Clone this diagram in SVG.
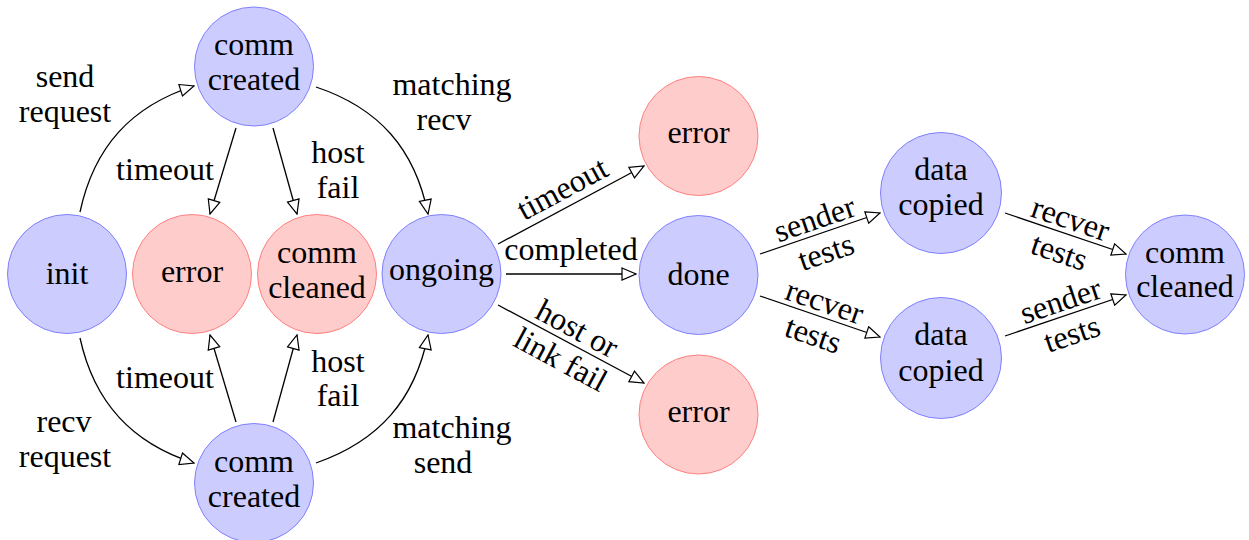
<svg xmlns="http://www.w3.org/2000/svg" width="1249" height="540" viewBox="0 0 1249 540">
<defs>
<style>
text{font-family:"Liberation Serif","Times New Roman",serif;font-size:32px;fill:#000;text-anchor:middle}
.b{fill:#ccccff;stroke:#8080ff;stroke-width:1}
.r{fill:#ffcccc;stroke:#ff8080;stroke-width:1}
.e{fill:none;stroke:#000;stroke-width:1.3;marker-end:url(#a)}
</style>
<marker id="a" viewBox="0 0 16 14" refX="15" refY="7" markerWidth="16" markerHeight="14" markerUnits="userSpaceOnUse" orient="auto">
<path d="M1,1 L15,7 L1,13 Z" fill="#fff" stroke="#000" stroke-width="1.2"/>
</marker>
</defs>
<rect width="1249" height="540" fill="#fff"/>
<g id="connectors">
<path class="e" d="M80,212 C94,147 131,106 194,86"/>
<path class="e" d="M80,338 C94,402 131,443 194,463"/>
<path class="e" d="M236,128 L210,214"/>
<path class="e" d="M273,128 L297,214"/>
<path class="e" d="M316,87 C379,108 415,149 428,214"/>
<path class="e" d="M236,422 L210,335"/>
<path class="e" d="M273,422 L297,335"/>
<path class="e" d="M316,463 C379,441 415,400 428,335"/>
<path class="e" d="M498,244 L644,166"/>
<path class="e" d="M506,274 L636,274"/>
<path class="e" d="M498,305 L644,383"/>
<path class="e" d="M760,254 L880,213"/>
<path class="e" d="M760,296 L880,337"/>
<path class="e" d="M1005,213 L1126,254"/>
<path class="e" d="M1005,336 L1126,295"/>
<text x="65" y="87">send</text>
<text x="65" y="122">request</text>
<text x="165" y="180">timeout</text>
<text x="338" y="163">host</text>
<text x="338" y="198">fail</text>
<text x="452" y="95">matching</text>
<text x="444" y="130">recv</text>
<text x="64" y="432">recv</text>
<text x="65" y="467">request</text>
<text x="165" y="388">timeout</text>
<text x="338" y="372">host</text>
<text x="338" y="406">fail</text>
<text x="452" y="438">matching</text>
<text x="443" y="473">send</text>
<g transform="translate(571,205) rotate(-28.2)"><text x="0" y="-8">timeout</text></g>
<text x="571" y="260">completed</text>
<g transform="translate(498,305) rotate(28.2)"><text x="81" y="-6">host or</text><text x="81" y="29">link fail</text></g>
<g transform="translate(760,254) rotate(-18.9)"><text x="63" y="-5">sender</text><text x="63" y="30">tests</text></g>
<g transform="translate(760,296) rotate(18.9)"><text x="63" y="-5">recver</text><text x="63" y="30">tests</text></g>
<g transform="translate(1005,213) rotate(18.7)"><text x="64" y="-5">recver</text><text x="64" y="30">tests</text></g>
<g transform="translate(1005,336) rotate(-18.7)"><text x="64" y="-5">sender</text><text x="64" y="30">tests</text></g>
</g>
<g id="init"><circle class="b" cx="67" cy="274" r="59.5"/><text x="67" y="284">init</text></g>
<g id="error1"><circle class="r" cx="192" cy="274" r="59.5"/><text x="192" y="282">error</text></g>
<g id="commcleaned1"><circle class="r" cx="317" cy="274" r="59.5"/><text x="317" y="263">comm</text><text x="317" y="298">cleaned</text></g>
<g id="ongoing"><circle class="b" cx="441.5" cy="274" r="59.5"/><text x="441.5" y="280">ongoing</text></g>
<g id="commcreated1"><circle class="b" cx="254" cy="66.5" r="59.5"/><text x="254" y="55">comm</text><text x="254" y="90">created</text></g>
<g id="commcreated2"><circle class="b" cx="254" cy="483" r="59.5"/><text x="254" y="472">comm</text><text x="254" y="507">created</text></g>
<g id="error2"><circle class="r" cx="698.5" cy="136" r="59.5"/><text x="698.5" y="143">error</text></g>
<g id="done"><circle class="b" cx="698.5" cy="275" r="59.5"/><text x="698.5" y="285">done</text></g>
<g id="error3"><circle class="r" cx="698.5" cy="414.5" r="59.5"/><text x="698.5" y="422">error</text></g>
<g id="datacopied1"><circle class="b" cx="941" cy="193" r="60.5"/><text x="941" y="180">data</text><text x="941" y="215">copied</text></g>
<g id="datacopied2"><circle class="b" cx="941" cy="358" r="60.5"/><text x="941" y="345">data</text><text x="941" y="381">copied</text></g>
<g id="commcleaned2"><circle class="b" cx="1185" cy="274.5" r="59.5"/><text x="1185" y="263">comm</text><text x="1185" y="297">cleaned</text></g>
</svg>
